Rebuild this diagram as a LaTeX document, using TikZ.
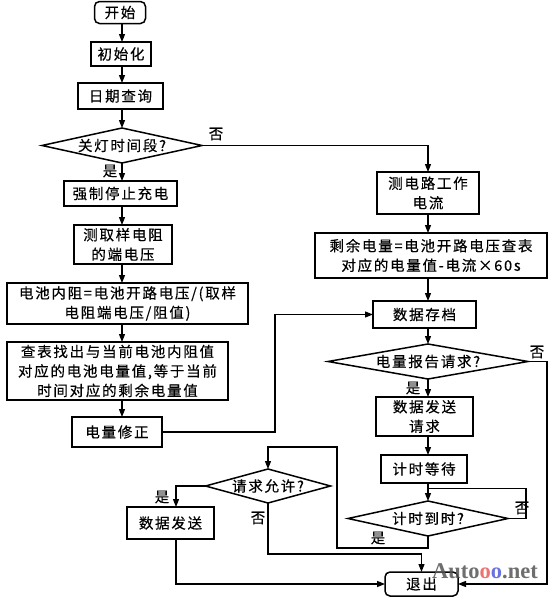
\documentclass[tikz,border=0pt]{standalone}
\usepackage{fontspec}
\usetikzlibrary{shapes.geometric,arrows.meta,calc}
\newfontfamily\cjk[LetterSpace=12,FakeBold=0.4]{Noto Sans CJK SC}
\newfontfamily\wmfont{Liberation Serif}
\definecolor{wmgray}{RGB}{85,85,85}
\definecolor{wmred}{RGB}{235,90,90}
\definecolor{wmblue}{RGB}{80,90,220}
\tikzset{
  sz/.style n args={2}{minimum width=#1pt, minimum height=#2pt},
  proc/.style={draw, line width=1.5pt, inner sep=0pt, outer sep=0pt, align=center,
    font=\cjk\fontsize{14.5}{19.5}\selectfont},
  term/.style={proc, rounded corners=5pt},
  dec/.style={draw, diamond, line width=1.5pt, inner sep=0pt, outer sep=0pt},
  lab/.style={font=\cjk\fontsize{14.5}{16}\selectfont, inner sep=0pt},
  conn/.style={line width=1.3pt},
  arr/.style={conn, -{Triangle[length=8pt,width=6pt]}},
}
\begin{document}
\begin{tikzpicture}[x=1pt,y=-1pt]
\useasboundingbox (0,0) rectangle (550,597);
\fill[white] (0,0) rectangle (550,597);
\coordinate (lc) at (122,0);
\coordinate (rc) at (428,0);
\coordinate (cx) at (275,0);
\coordinate (rx) at (547,0);
\coordinate (sx) at (176,0);

% left column
\node[term, sz={51}{22}] (start) at (120,12.5) {开始};
\node[proc, sz={60}{24}] (init) at (121,54) {初始化};
\node[proc, sz={85}{26}] (date) at (120.5,96) {日期查询};
\node[dec, sz={160}{35}, label={[lab]center:关灯时间段?}] (d1) at (122,145.5) {};
\node[proc, sz={113}{25}] (stop) at (120.5,193.5) {强制停止充电};
\node[proc, sz={98}{39}] (meas) at (123,244.5) {测取样电阻\\的端电压};
\node[proc, sz={241}{41}] (rint) at (127.5,303.5) {电池内阻=电池开路电压/(取样\\电阻端电压/阻值)};
\node[proc, sz={221}{58}] (look) at (117.5,371) {查表找出与当前电池内阻值\\对应的电池电量值,等于当前\\时间对应的剩余电量值};
\node[proc, sz={90}{30}] (corr) at (117,432) {电量修正};

% right column
\node[proc, sz={102}{42}] (cur) at (428,193) {测电路工作\\电流};
\node[proc, sz={232}{45}] (rem) at (431,255.5) {剩余电量=电池开路电压查表\\对应的电量值-电流×60s};
\node[proc, sz={103}{27}] (store) at (424.5,314.5) {数据存档};
\node[dec, sz={200}{35}, label={[lab]center:电量报告请求?}] (d2) at (428,361.5) {};
\node[proc, sz={97}{39}] (req) at (424.5,416.5) {数据发送\\请求};
\node[proc, sz={86}{28}] (wait) at (424,469) {计时等待};
\node[dec, sz={160}{35}, label={[lab]center:计时到时?}] (d3) at (428,518.5) {};
\node[dec, sz={125}{34}, label={[lab]center:请求允许?}] (d4) at (268,486) {};
\node[proc, sz={87}{32}] (send) at (170.5,523) {数据发送};
\node[term, sz={73}{24}] (exit) at (421.5,584) {退出};

% connectors, left column
\draw[arr] (start.south -| lc) -- (init.north -| lc);
\draw[arr] (init.south -| lc) -- (date.north -| lc);
\draw[arr] (date.south -| lc) -- (d1.north);
\draw[arr] (d1.south) -- (stop.north -| lc);
\draw[arr] (stop.south -| lc) -- (meas.north -| lc);
\draw[arr] (meas.south -| lc) -- (rint.north -| lc);
\draw[arr] (rint.south -| lc) -- (look.north -| lc);
\draw[arr] (look.south -| lc) -- (corr.north -| lc);

% right column
\draw[arr] (d1.east) -| (cur.north);
\draw[arr] (cur.south -| rc) -- (rem.north -| rc);
\draw[arr] (rem.south -| rc) -- (store.north -| rc);
\draw[arr] (corr.east) -- (corr.east -| cx) |- (store.west);
\draw[arr] (store.south -| rc) -- (d2.north);
\draw[arr] (d2.south) -- (req.north -| rc);
\draw[arr] (req.south -| rc) -- (wait.north -| rc);
\draw[arr] (wait.south -| rc) -- (d3.north);
\draw[conn] (d3.east) -- ++(18,0) |- ($(wait.south -| rc)!0.3!(d3.north)$);
\draw[arr] (d3.south) -- ++(0,12) -| ($(d4.north)+(69,-22)$) -| (d4.north);
\draw[arr] (d2.east) -- (d2.east -| rx) |- (exit.east);
\draw[arr] (d4.west) -| (sx |- send.north);
\draw[arr] (send.south -| sx) |- (exit.west);
\draw[arr] (d4.south) -- ++(0,51) -| (exit.north);

% labels
\node[lab] (y1) at (110,171) {是};
\node[lab] (n1) at (216,134) {否};
\node[lab] (y2) at (413,388) {是};
\node[lab] (n2) at (537,352) {否};
\node[lab] (n3) at (522,508) {否};
\node[lab] (y3) at (378,538) {是};
\node[lab] (y4) at (162,497) {是};
\node[lab] (n4) at (258,518) {否};

% watermark
\node[anchor=base west, inner sep=0pt, text=wmgray, opacity=0.85,
  font=\wmfont\bfseries\fontsize{22.5}{24}\selectfont] (wm) at (432,578)
  {Auto\textcolor{wmred}{o}\textcolor{wmblue}{o}.net};
\end{tikzpicture}
\end{document}
